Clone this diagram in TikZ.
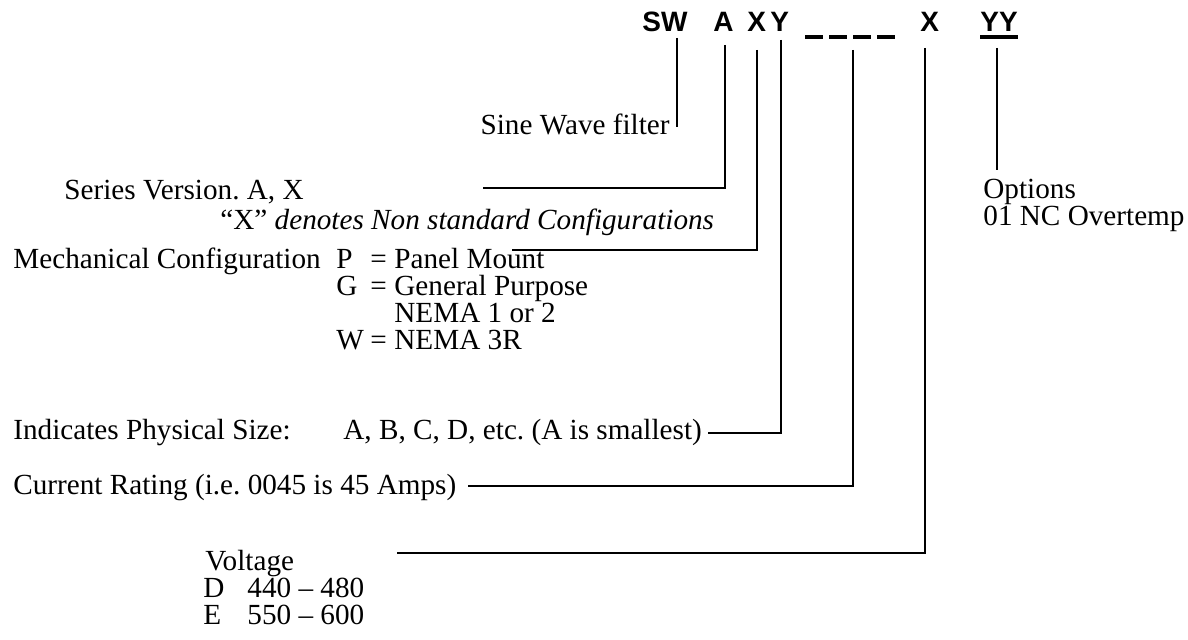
\documentclass[tikz,border=0pt]{standalone}
\usepackage{fontspec}
\setmainfont{Liberation Serif}
\setsansfont{Liberation Sans}
\frenchspacing

\begin{document}
\begin{tikzpicture}[x=0.5pt,y=-0.5pt,font=\fontsize{14.6}{17}\selectfont,
  lead/.style={line width=1.1pt},
  txt/.style={anchor=base west,inner sep=0pt},
  code/.style={anchor=base west,inner sep=0pt,font=\fontsize{14}{16}\selectfont\sffamily\bfseries}]
  \useasboundingbox (0,0) rectangle (1188,640);
  % part number
  \node[code] (sw) at (642,32) {SW};
  \node[code] (ca) at (713,32) {A};
  \node[code] (cx) at (747,32) {X};
  \node[code] (cy) at (770,32) {Y};
  \foreach \i in {0,...,3}
    \draw[line width=2pt] (805+\i*24,37) -- (823+\i*24,37);
  \node[code] (cv) at (920,32) {X};
  \node[code] (cyy) at (980,32) {YY};
  \draw[line width=2pt] (cyy.base west) ++(0,5) -- ++(38,0);
  % labels
  \node[txt,anchor=base east] (sine) at (670,135) {Sine Wave filter};
  \node[txt] (series) at (64,200) {Series Version. A, X};
  \node[txt] (xnote) at (220,230) {``X'' \textit{denotes Non standard Configurations}};
  \node[txt] (mech) at (13,269) {Mechanical Configuration};
  \node[txt] (optp) at (336,269) {P};
  \node[txt] (eqp) at (370,269) {=};
  \node[txt] (panel) at (394,269) {Panel Mount};
  \node[txt] (optg) at (336,296) {G};
  \node[txt] (eqg) at (370,296) {=};
  \node[txt] (general) at (394,296) {General Purpose};
  \node[txt] (nema) at (394,323) {NEMA 1 or 2};
  \node[txt] (optw) at (336,350) {W};
  \node[txt] (eqw) at (370,350) {=};
  \node[txt] (nemaw) at (394,350) {NEMA 3R};
  \node[txt] (size) at (13,440) {Indicates Physical Size:};
  \node[txt] (sizes) at (343,440) {A, B, C, D, etc. (A is smallest)};
  \node[txt] (amps) at (13,495) {Current Rating (i.e. 0045 is 45 Amps)};
  \node[txt] (volt) at (205,570) {Voltage};
  \node[txt] (vd) at (203,597) {D};
  \node[txt] (vdr) at (247,597) {440 -- 480};
  \node[txt] (ve) at (203,624) {E};
  \node[txt] (ver) at (247,624) {550 -- 600};
  \node[txt] (opts) at (983,199) {Options};
  \node[txt] (optnc) at (983,226) {01 NC Overtemp};
  % leader ends
  \coordinate (swTop) at (677,38);   \coordinate (swEnd) at (677,127);
  \coordinate (aTop) at (725,45);    \coordinate (aEnd) at (483,188);
  \coordinate (xTop) at (757,50);    \coordinate (xEnd) at (512,250);
  \coordinate (yTop) at (781,40);    \coordinate (yEnd) at (708,433);
  \coordinate (dTop) at (853,50);    \coordinate (dEnd) at (468,486);
  \coordinate (vTop) at (925,48);    \coordinate (vEnd) at (397,553);
  \coordinate (yyTop) at (997,48);   \coordinate (yyEnd) at (997,170);
  % leaders
  \draw[lead] (swTop) -- (swEnd);
  \draw[lead] (aTop) |- (aEnd);
  \draw[lead] (xTop) |- (xEnd);
  \draw[lead] (yTop) |- (yEnd);
  \draw[lead] (dTop) |- (dEnd);
  \draw[lead] (vTop) |- (vEnd);
  \draw[lead] (yyTop) -- (yyEnd);
\end{tikzpicture}
\end{document}
